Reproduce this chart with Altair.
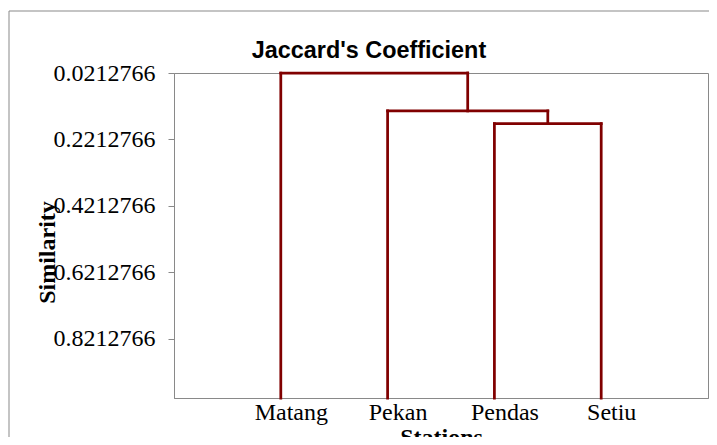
import altair as alt
import pandas as pd

# ---- data ----
stations = ["Matang", "Pekan", "Pendas", "Setiu"]
leaf_pos = [1, 2, 3, 4]
# linkage: nodes 0-3 are leaves, 4+ are clusters created in order
merge_left = [2, 1, 0]
merge_right = [3, 4, 5]
merge_height = [0.1734, 0.1355, 0.0212766]
y_ticks = [0.0212766, 0.2212766, 0.4212766, 0.6212766, 0.8212766]
y_domain = [0.0212766, 1.0]
x_domain = [0, 5]

# ---- build dendrogram segments from the linkage ----
node_x = list(leaf_pos)
node_y = [y_domain[1]] * len(leaf_pos)
segs = []
for l, r, h in zip(merge_left, merge_right, merge_height):
    for c in (l, r):
        segs.append(dict(x=node_x[c], x2=node_x[c], y=node_y[c], y2=h))
    segs.append(dict(x=node_x[l], x2=node_x[r], y=h, y2=h))
    node_x.append((node_x[l] + node_x[r]) / 2)
    node_y.append(h)
df = pd.DataFrame(segs)

GRAY = "#898989"
SERIF = "Liberation Serif"
FS = 24

label_expr = "[" + ",".join("'%s'" % s for s in stations) + "][datum.value - 1]"

lines = alt.Chart(df).mark_rule(color="#800000", strokeWidth=2.75, strokeCap="square").encode(
    x=alt.X("x:Q",
            scale=alt.Scale(domain=x_domain, nice=False, zero=False),
            axis=alt.Axis(values=leaf_pos, labelExpr=label_expr, ticks=False, grid=False,
                          domainColor=GRAY, labelFont=SERIF, labelFontSize=FS,
                          labelColor="black", labelPadding=2, labelOffset=10,
                          title="Stations", titleFont=SERIF, titleFontSize=FS,
                          titleFontWeight="bold", titleColor="black",
                          titleY=27, titleBaseline="top")),
    x2="x2:Q",
    y=alt.Y("y:Q",
            scale=alt.Scale(domain=y_domain, reverse=True, nice=False, zero=False),
            axis=alt.Axis(values=y_ticks, labelExpr="format(datum.value, '.7f')", grid=False,
                          tickColor=GRAY, tickSize=6, domainColor=GRAY,
                          labelFont=SERIF, labelFontSize=FS, labelColor="black",
                          labelPadding=13,
                          title="Similarity", titleFont=SERIF, titleFontSize=FS,
                          titleFontWeight="bold", titleColor="black",
                          titleX=-127, titleY=179, titleAngle=270,
                          titleAlign="center", titleBaseline="middle")),
    y2="y2:Q",
)

frame = alt.Chart(alt.Data(values=[{}])).mark_rect(filled=False, stroke=GRAY, strokeWidth=1).encode(
    x=alt.value(-165), x2=alt.value(800), y=alt.value(-62), y2=alt.value(600)
)

chart = alt.layer(frame, lines).properties(
    width=534, height=325,
    title=alt.Title("Jaccard's Coefficient", font="Liberation Sans", fontSize=23.4,
                    fontWeight="bold", color="black", anchor="middle", frame="group",
                    dx=-72, dy=84.5, offset=14, baseline="alphabetic"),
    autosize=alt.AutoSizeParams(type="none"),
    padding={"left": 166, "top": 65, "right": 1, "bottom": 39},
).configure_view(stroke=GRAY, strokeWidth=1)

chart.save("out.html", embed_options={"renderer": "svg", "actions": False})
